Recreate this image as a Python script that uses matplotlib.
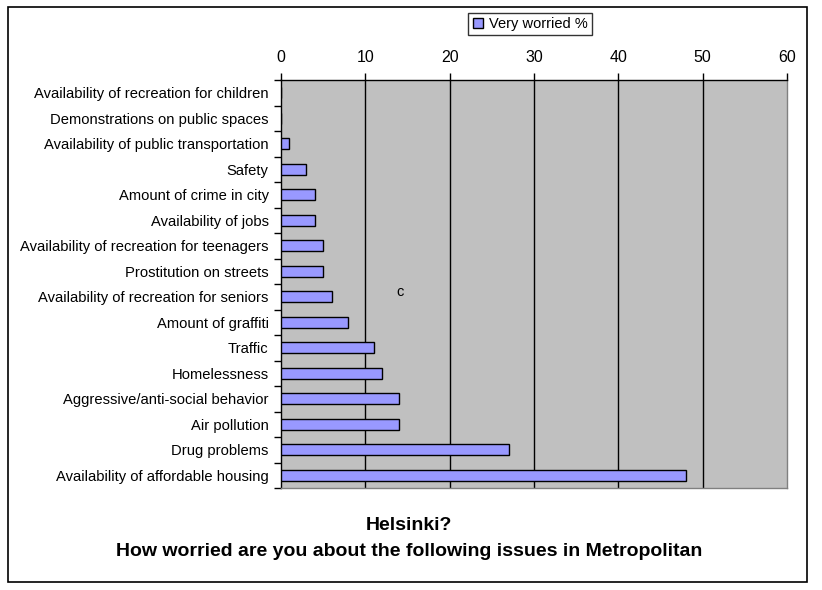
import matplotlib
matplotlib.use("Agg")
import matplotlib.pyplot as plt
from matplotlib.patches import Rectangle
import numpy as np

categories = [
    "Availability of recreation for children",
    "Demonstrations on public spaces",
    "Availability of public transportation",
    "Safety",
    "Amount of crime in city",
    "Availability of jobs",
    "Availability of recreation for teenagers",
    "Prostitution on streets",
    "Availability of recreation for seniors",
    "Amount of graffiti",
    "Traffic",
    "Homelessness",
    "Aggressive/anti-social behavior",
    "Air pollution",
    "Drug problems",
    "Availability of affordable housing",
]
values = [0, 0, 1, 3, 4, 4, 5, 5, 6, 8, 11, 12, 14, 14, 27, 48]
x_ticks = [0, 10, 20, 30, 40, 50, 60]
series_name = "Very worried %"
title_line1 = "How worried are you about the following issues in Metropolitan"
title_line2 = "Helsinki?"

plt.rcParams['font.family'] = ['Liberation Sans', 'DejaVu Sans']

W, H = 822, 590
fig = plt.figure(figsize=(W / 100, H / 100), dpi=100)
fig.patch.set_facecolor("white")

# outer chart border
fig.patches.append(Rectangle((8 / W, 1 - 582 / H), (807 - 8) / W, (582 - 7) / H,
                             transform=fig.transFigure, fill=False,
                             edgecolor="black", linewidth=1.2))

left, right, top, bottom = 281, 787, 80, 488
ax = fig.add_axes([left / W, 1 - bottom / H, (right - left) / W, (bottom - top) / H])
ax.set_facecolor("#C0C0C0")

n = len(categories)
ypos = np.arange(n)
bars = ax.barh(ypos, values, height=0.42, color="#9999FF", edgecolor="black",
               linewidth=1.0, zorder=3, label=series_name)

ax.set_xlim(0, 60)
ax.set_ylim(n - 0.5, -0.5)

ax.xaxis.tick_top()
ax.set_xticks(x_ticks)
ax.set_xticklabels([str(t) for t in x_ticks], fontsize=11.5)
ax.tick_params(axis="x", direction="out", length=5, width=1, pad=6, colors="black")
for t in x_ticks[1:-1]:
    ax.axvline(t, color="black", linewidth=1.0, zorder=1)

ax.set_yticks(np.arange(n + 1) - 0.5)
ax.set_yticklabels([])
ax.set_yticks(ypos, minor=True)
ax.set_yticklabels(categories, minor=True, fontsize=10.6)
ax.tick_params(axis="y", which="major", direction="out", length=5, width=1)
ax.tick_params(axis="y", which="minor", length=0, pad=9)

ax.spines["left"].set_color("black")
ax.spines["top"].set_color("black")
ax.spines["right"].set_color("#808080")
ax.spines["bottom"].set_color("#808080")
for s in ax.spines.values():
    s.set_linewidth(1.0)

# stray label inside plot area
fig.text(400 / W, 1 - 292 / H, "c", fontsize=10.5, ha="center", va="center")

# legend
leg = fig.legend(handles=[bars], labels=[series_name], loc="center",
                 bbox_to_anchor=(530 / W, 1 - 24 / H), fontsize=10.5,
                 frameon=True, fancybox=False, edgecolor="black",
                 handlelength=0.7, handleheight=0.7, borderpad=0.3,
                 handletextpad=0.4)
leg.get_frame().set_linewidth(1.0)

# title (positioned as in the reference)
fig.text(409 / W, 1 - 526 / H, title_line2, fontsize=14, fontweight="bold",
         ha="center", va="center")
fig.text(409 / W, 1 - 551 / H, title_line1, fontsize=14, fontweight="bold",
         ha="center", va="center")

fig.savefig("out.png", dpi=100)
